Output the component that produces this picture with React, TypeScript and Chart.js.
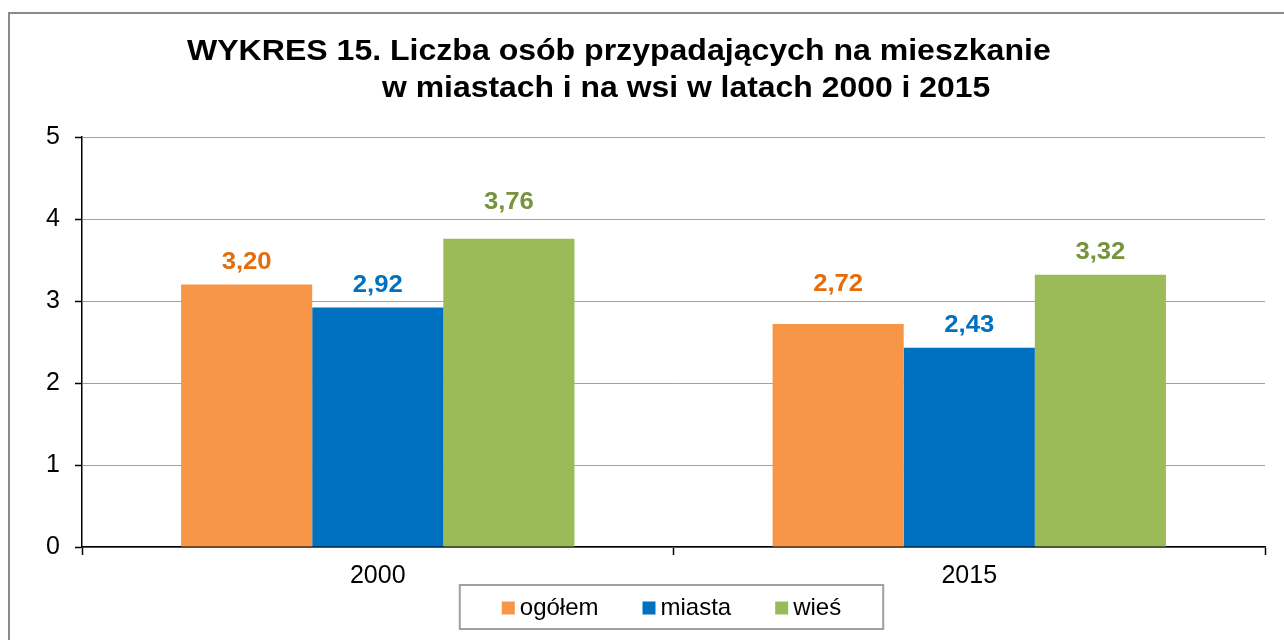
import React, { useEffect, useRef } from "react";
import { Chart, registerables } from "chart.js";

Chart.register(...registerables);

const categories = ["2000", "2015"];
const seriesNames = ["ogółem", "miasta", "wieś"];
const ogolem = [3.2, 2.72];
const miasta = [2.92, 2.43];
const wies = [3.76, 3.32];
const titleLines = [
  "WYKRES 15. Liczba osób przypadających na mieszkanie",
  "w miastach i na wsi w latach 2000 i 2015",
];

const barColors = ["#F79646", "#0070C0", "#9BBB59"];
const labelColors = ["#E46C0A", "#0070C0", "#77933C"];
// extra lift (px) of individual value labels, as placed in the original
const labelLift = [
  [0, 17],
  [0, 0],
  [14, 0],
];
const FONT = "'Liberation Sans', Arial, sans-serif";

const framePlugin = {
  id: "frame",
  beforeDraw(chart: any) {
    const ctx = chart.ctx;
    ctx.save();
    ctx.fillStyle = "#ffffff";
    ctx.fillRect(0, 0, chart.width, chart.height);
    ctx.strokeStyle = "#8a8a8a";
    ctx.lineWidth = 2;
    ctx.strokeRect(9, 13, chart.width + 20, chart.height + 20);
    ctx.restore();
  },
};

function drawStretched(ctx: any, text: string, x: number, y: number, sx: number, align: string) {
  ctx.save();
  ctx.translate(x, y);
  ctx.scale(sx, 1);
  ctx.textAlign = align;
  ctx.fillText(text, 0, 0);
  ctx.restore();
}

const titlePlugin = {
  id: "customTitle",
  afterDraw(chart: any) {
    const ctx = chart.ctx;
    ctx.save();
    ctx.fillStyle = "#000000";
    ctx.font = `bold 29px ${FONT}`;
    ctx.textBaseline = "alphabetic";
    drawStretched(ctx, titleLines[0], 187, 60, 1.105, "left");
    drawStretched(ctx, titleLines[1], 382, 97, 1.1, "left");
    ctx.restore();
  },
};

const valueLabelPlugin = {
  id: "valueLabels",
  afterDatasetsDraw(chart: any) {
    const ctx = chart.ctx;
    ctx.save();
    ctx.font = `bold 24px ${FONT}`;
    ctx.textBaseline = "alphabetic";
    chart.data.datasets.forEach((ds: any, i: number) => {
      const meta = chart.getDatasetMeta(i);
      meta.data.forEach((el: any, j: number) => {
        const v = ds.data[j] as number;
        ctx.fillStyle = labelColors[i];
        drawStretched(
          ctx,
          v.toFixed(2).replace(".", ","),
          el.x,
          el.y - 16 - labelLift[i][j],
          1.07,
          "center"
        );
      });
    });
    ctx.restore();
  },
};

const legendPlugin = {
  id: "customLegend",
  afterDraw(chart: any) {
    const ctx = chart.ctx;
    const area = chart.chartArea;
    ctx.save();
    ctx.font = `24px ${FONT}`;
    const box = 13;
    const gap = 5;
    const itemGap = 44;
    const widths = chart.data.datasets.map(
      (ds: any) => box + gap + ctx.measureText(ds.label).width
    );
    const total =
      widths.reduce((a: number, b: number) => a + b, 0) +
      itemGap * (widths.length - 1);
    const cx = (area.left + area.right) / 2 - 2;
    const padX = 42;
    const left = cx - total / 2 - padX;
    const top = 585;
    const h = 44;
    ctx.strokeStyle = "#a0a0a0";
    ctx.lineWidth = 2;
    ctx.strokeRect(left, top, total + 2 * padX, h);
    let x = cx - total / 2;
    const midY = top + h / 2 + 1;
    chart.data.datasets.forEach((ds: any, i: number) => {
      ctx.fillStyle = ds.backgroundColor;
      ctx.fillRect(x, midY - 6.5, box, box);
      ctx.fillStyle = "#000000";
      ctx.textAlign = "left";
      ctx.textBaseline = "middle";
      ctx.fillText(ds.label, x + box + gap, midY);
      x += widths[i] + itemGap;
    });
    ctx.restore();
  },
};

export default function App() {
  const ref = useRef<HTMLCanvasElement | null>(null);

  useEffect(() => {
    document.body.style.margin = "0";
    if (!ref.current) return;
    const chart = new Chart(ref.current, {
      type: "bar",
      data: {
        labels: categories,
        datasets: [ogolem, miasta, wies].map((d, i) => ({
          label: seriesNames[i],
          data: d,
          backgroundColor: barColors[i],
          borderWidth: 0,
          categoryPercentage: 0.665,
          barPercentage: 1,
        })),
      },
      options: {
        animation: false,
        responsive: false,
        maintainAspectRatio: false,
        layout: { padding: { left: 0, right: 19, top: 137, bottom: 0 } },
        plugins: {
          legend: { display: false },
          title: { display: false },
          tooltip: { enabled: false },
        },
        scales: {
          x: {
            type: "category",
            offset: true,
            grid: {
              offset: true,
              drawOnChartArea: false,
              drawTicks: true,
              tickLength: 8,
              tickColor: "#000000",
              tickWidth: 1.5,
            },
            border: { color: "#000000", width: 1.5 },
            ticks: {
              color: "#000000",
              font: { family: FONT, size: 25 },
              padding: 6,
            },
            afterFit(scale: any) {
              scale.height = 93;
            },
          },
          y: {
            min: 0,
            max: 5,
            ticks: {
              stepSize: 1,
              color: "#000000",
              font: { family: FONT, size: 25 },
              padding: 15,
            },
            grid: {
              color: "#a0a0a0",
              lineWidth: 1,
              tickLength: 7,
              tickColor: "#000000",
              tickWidth: 1.5,
            },
            border: { color: "#000000", width: 1.5 },
            afterFit(scale: any) {
              scale.width = 82;
            },
          },
        },
      },
      plugins: [framePlugin, titlePlugin, valueLabelPlugin, legendPlugin],
    } as any);
    return () => chart.destroy();
  }, []);

  return (
    <div style={{ width: 1284, height: 640 }}>
      <canvas ref={ref} width={1284} height={640} style={{ display: "block" }} />
    </div>
  );
}
